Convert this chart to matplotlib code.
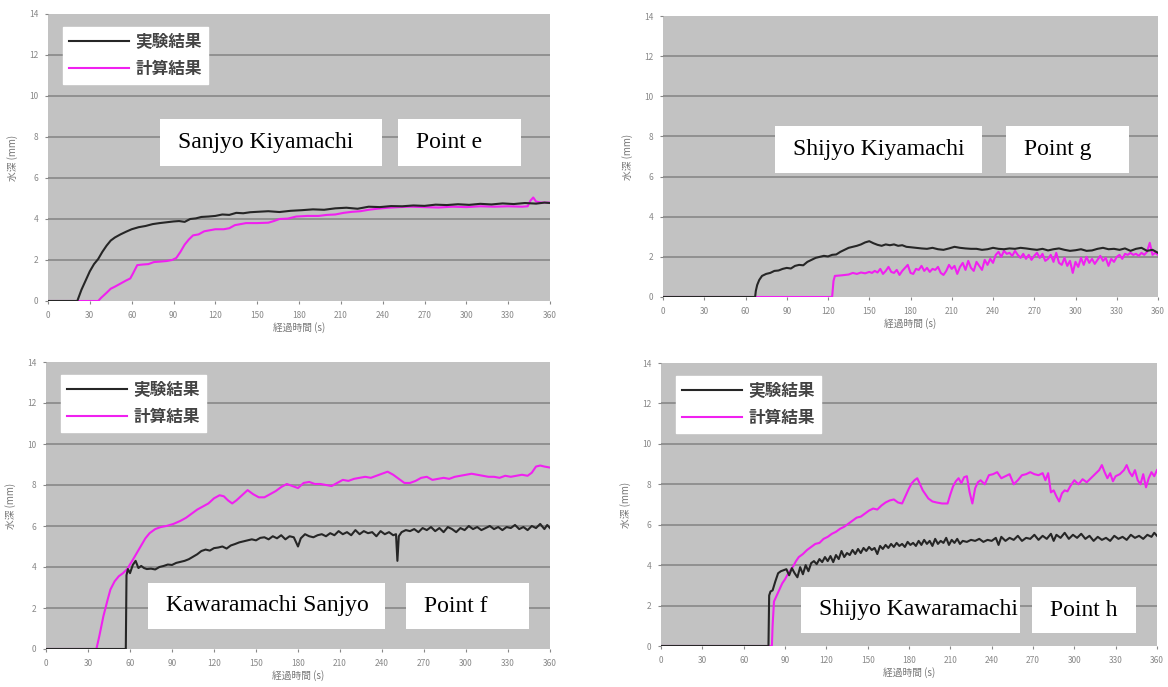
import matplotlib
matplotlib.use("Agg")
import matplotlib.pyplot as plt
from matplotlib.patches import Rectangle

plt.rcParams['font.family'] = ['Noto Sans CJK JP', 'DejaVu Sans']

# --- datos (tiempo s, profundidad mm) ---
e_exp = [(0, 0), (21, 0), (24, 0.55), (27, 1.0), (30, 1.45), (33, 1.8), (36, 2.05), (39, 2.4), (42, 2.7),
         (45, 2.95), (48, 3.1), (52, 3.25), (56, 3.38), (60, 3.5), (65, 3.6), (70, 3.66), (75, 3.75),
         (80, 3.8), (85, 3.84), (90, 3.88), (94, 3.9), (98, 3.86), (102, 4.0), (106, 4.03), (110, 4.1),
         (115, 4.12), (120, 4.15), (125, 4.22), (130, 4.2), (135, 4.3), (140, 4.28), (145, 4.33),
         (150, 4.35), (158, 4.38), (166, 4.34), (174, 4.4), (182, 4.43), (190, 4.47), (198, 4.45),
         (206, 4.52), (214, 4.55), (222, 4.5), (230, 4.6), (238, 4.58), (246, 4.63), (254, 4.62),
         (262, 4.66), (270, 4.64), (278, 4.7), (286, 4.68), (294, 4.72), (302, 4.69), (310, 4.74),
         (318, 4.71), (326, 4.76), (334, 4.73), (342, 4.78), (350, 4.75), (356, 4.8), (360, 4.78)]
e_calc = [(0, 0), (36, 0), (38, 0.15), (42, 0.4), (45, 0.6), (48, 0.7), (52, 0.85), (56, 1.0), (59, 1.1),
          (61, 1.35), (64, 1.75), (68, 1.78), (72, 1.8), (76, 1.9), (80, 1.92), (85, 1.95), (89, 2.0),
          (92, 2.1), (95, 2.4), (98, 2.75), (101, 3.0), (104, 3.2), (108, 3.25), (112, 3.4), (116, 3.45),
          (120, 3.5), (126, 3.5), (130, 3.55), (134, 3.7), (138, 3.75), (142, 3.8), (150, 3.8), (158, 3.82),
          (162, 3.9), (166, 4.0), (172, 4.02), (178, 4.12), (186, 4.15), (194, 4.15), (200, 4.2),
          (206, 4.22), (212, 4.3), (218, 4.35), (224, 4.38), (230, 4.45), (236, 4.5), (244, 4.55),
          (252, 4.58), (260, 4.6), (270, 4.58), (280, 4.56), (290, 4.6), (300, 4.58), (310, 4.62),
          (320, 4.6), (330, 4.62), (340, 4.6), (344, 4.62), (346, 4.9), (348, 5.05), (350, 4.85),
          (354, 4.8), (360, 4.8)]

g_exp = [(0, 0), (67, 0), (67.5, 0.3), (68.5, 0.6), (70, 0.85), (72, 1.05), (75, 1.15), (78, 1.2), (81, 1.3),
         (84, 1.32), (87, 1.4), (90, 1.45), (93, 1.42), (96, 1.55), (99, 1.6), (102, 1.58), (105, 1.75),
         (108, 1.85), (111, 1.95), (114, 2.0), (117, 2.05), (120, 2.02), (123, 2.1), (126, 2.12),
         (129, 2.25), (132, 2.35), (135, 2.45), (138, 2.5), (141, 2.55), (144, 2.62), (147, 2.72),
         (150, 2.78), (153, 2.68), (156, 2.6), (159, 2.55), (162, 2.62), (165, 2.58), (168, 2.62),
         (171, 2.55), (174, 2.58), (177, 2.5), (180, 2.48), (184, 2.45), (188, 2.42), (192, 2.4),
         (196, 2.45), (200, 2.38), (204, 2.35), (208, 2.42), (212, 2.5), (216, 2.45), (220, 2.42),
         (224, 2.4), (228, 2.4), (232, 2.35), (236, 2.38), (240, 2.45), (244, 2.4), (248, 2.38),
         (252, 2.42), (256, 2.4), (260, 2.45), (264, 2.42), (268, 2.38), (272, 2.35), (276, 2.4),
         (280, 2.32), (284, 2.38), (288, 2.42), (292, 2.35), (296, 2.3), (300, 2.33), (304, 2.38),
         (308, 2.3), (312, 2.32), (316, 2.4), (320, 2.45), (324, 2.38), (328, 2.4), (332, 2.35),
         (336, 2.42), (340, 2.3), (344, 2.4), (348, 2.45), (352, 2.3), (356, 2.35), (360, 2.2)]
g_calc = [(0, 0), (123, 0), (124, 0.8), (125, 1.05), (130, 1.08), (135, 1.12), (138, 1.2), (141, 1.15),
          (144, 1.22), (147, 1.18), (150, 1.25), (152, 1.2), (154, 1.3), (156, 1.22), (158, 1.4), (160, 1.15),
          (162, 1.3), (164, 1.5), (166, 1.25), (168, 1.2), (170, 1.35), (172, 1.1), (174, 1.3), (176, 1.45),
          (178, 1.6), (180, 1.2), (182, 1.15), (184, 1.4), (186, 1.35), (188, 1.55), (190, 1.3), (192, 1.45),
          (194, 1.25), (196, 1.4), (198, 1.35), (200, 1.5), (202, 1.2), (204, 1.1), (206, 1.3), (208, 1.6),
          (210, 1.4), (212, 1.55), (214, 1.15), (216, 1.5), (218, 1.7), (220, 1.35), (222, 1.8), (224, 1.45),
          (226, 1.3), (228, 1.75), (230, 1.55), (232, 1.35), (234, 1.85), (236, 1.6), (238, 1.9), (240, 1.7),
          (242, 2.1), (244, 2.25), (246, 2.0), (248, 2.3), (250, 2.15), (252, 2.2), (254, 2.05), (256, 2.3),
          (258, 2.1), (260, 1.95), (262, 2.15), (264, 1.9), (266, 2.1), (268, 1.85), (270, 2.05), (272, 2.2),
          (274, 1.95), (276, 2.15), (278, 1.8), (280, 1.9), (282, 2.1), (284, 1.75), (286, 2.2), (288, 1.7),
          (290, 1.6), (292, 1.95), (294, 1.55), (296, 1.8), (298, 1.2), (300, 1.75), (302, 1.5), (304, 1.95),
          (306, 1.6), (308, 2.0), (310, 1.7), (312, 1.9), (314, 1.65), (316, 1.85), (318, 2.05), (320, 1.8),
          (322, 1.95), (324, 1.55), (326, 1.9), (328, 1.75), (330, 2.0), (332, 2.1), (334, 1.9), (336, 2.15),
          (338, 2.1), (340, 2.2), (342, 2.1), (344, 2.15), (346, 2.05), (348, 2.2), (350, 2.1), (352, 2.25),
          (354, 2.7), (356, 2.1), (358, 2.2), (360, 2.1)]

f_exp = [(0, 0), (57, 0), (57.5, 3.6), (58.5, 3.9), (60, 3.7), (62, 4.1), (64, 4.3), (66, 3.95), (68, 4.05),
         (70, 3.95), (72, 3.9), (75, 3.92), (78, 3.88), (81, 4.0), (84, 4.05), (87, 4.12), (90, 4.1),
         (93, 4.2), (96, 4.25), (99, 4.3), (102, 4.38), (105, 4.5), (108, 4.62), (111, 4.78), (114, 4.85),
         (117, 4.8), (120, 4.92), (123, 4.95), (126, 5.0), (129, 4.9), (132, 5.05), (135, 5.12), (138, 5.2),
         (141, 5.25), (144, 5.3), (147, 5.35), (150, 5.3), (153, 5.42), (156, 5.45), (159, 5.35), (162, 5.5),
         (165, 5.4), (168, 5.55), (171, 5.35), (174, 5.5), (177, 5.45), (180, 5.0), (182, 5.4), (185, 5.6),
         (188, 5.5), (191, 5.45), (194, 5.55), (197, 5.6), (200, 5.5), (203, 5.65), (206, 5.55), (209, 5.75),
         (212, 5.6), (215, 5.7), (218, 5.55), (221, 5.8), (224, 5.6), (227, 5.75), (230, 5.65), (233, 5.7),
         (236, 5.5), (239, 5.75), (242, 5.6), (245, 5.7), (248, 5.55), (250, 5.6), (251, 4.3), (252, 5.5),
         (254, 5.7), (257, 5.8), (260, 5.75), (263, 5.85), (266, 5.7), (269, 5.9), (272, 5.8), (275, 5.95),
         (278, 5.75), (281, 5.9), (284, 5.7), (287, 5.95), (290, 5.85), (293, 5.7), (296, 5.9), (299, 5.8),
         (302, 6.0), (305, 5.85), (308, 5.95), (311, 5.8), (314, 5.9), (317, 6.0), (320, 5.85), (323, 5.95),
         (326, 5.8), (329, 5.95), (332, 5.9), (335, 6.05), (338, 5.85), (341, 5.95), (344, 5.8), (347, 6.0),
         (350, 5.9), (353, 6.1), (356, 5.85), (358, 6.05), (360, 5.9)]
f_calc = [(0, 0), (36, 0), (38, 0.6), (41, 1.6), (44, 2.4), (46, 2.9), (49, 3.3), (52, 3.55), (55, 3.7),
          (58, 3.9), (62, 4.35), (65, 4.7), (68, 5.05), (71, 5.4), (74, 5.65), (78, 5.85), (82, 5.95),
          (86, 6.0), (91, 6.1), (96, 6.25), (100, 6.4), (104, 6.6), (108, 6.8), (112, 6.95), (116, 7.1),
          (120, 7.35), (124, 7.5), (127, 7.45), (130, 7.25), (133, 7.1), (136, 7.25), (140, 7.5), (144, 7.75),
          (148, 7.55), (152, 7.4), (156, 7.4), (160, 7.55), (164, 7.7), (168, 7.9), (172, 8.05), (176, 7.95),
          (180, 7.85), (184, 8.1), (188, 8.15), (192, 8.05), (196, 8.05), (200, 8.0), (204, 7.95), (208, 8.1),
          (212, 8.25), (216, 8.2), (220, 8.3), (224, 8.35), (228, 8.4), (232, 8.35), (236, 8.45), (240, 8.55),
          (244, 8.65), (248, 8.5), (252, 8.3), (256, 8.1), (260, 8.1), (264, 8.2), (268, 8.35), (272, 8.4),
          (276, 8.25), (280, 8.3), (284, 8.35), (288, 8.3), (292, 8.4), (296, 8.45), (300, 8.5), (304, 8.55),
          (308, 8.5), (312, 8.45), (316, 8.4), (320, 8.4), (324, 8.35), (328, 8.45), (332, 8.4), (336, 8.45),
          (340, 8.5), (344, 8.45), (347, 8.6), (350, 8.9), (353, 8.95), (356, 8.9), (360, 8.85)]

h_exp = [(0, 0), (78, 0), (78.5, 2.5), (79.5, 2.7), (81, 2.75), (83, 3.2), (85, 3.6), (87, 3.7), (89, 3.75),
         (91, 3.8), (93, 3.5), (95, 3.85), (97, 3.6), (99, 3.4), (101, 3.9), (103, 3.55), (105, 4.0),
         (107, 3.7), (109, 4.1), (111, 4.2), (113, 4.05), (115, 4.3), (117, 4.15), (119, 4.4), (121, 4.2),
         (123, 4.45), (125, 4.15), (127, 4.5), (129, 4.3), (131, 4.7), (133, 4.4), (135, 4.6), (137, 4.5),
         (139, 4.75), (141, 4.55), (143, 4.8), (145, 4.6), (147, 4.85), (149, 4.7), (151, 4.9), (153, 4.75),
         (155, 4.85), (157, 4.55), (159, 4.95), (161, 4.8), (163, 5.0), (165, 4.85), (167, 5.05), (169, 4.9),
         (171, 5.1), (173, 4.95), (175, 5.05), (177, 4.9), (179, 5.15), (181, 5.0), (183, 5.1), (185, 4.95),
         (187, 5.2), (189, 5.0), (191, 5.25), (193, 5.05), (195, 5.2), (197, 4.95), (199, 5.3), (201, 5.05),
         (203, 5.2), (205, 5.1), (207, 5.35), (209, 5.0), (211, 5.25), (213, 5.1), (215, 5.3), (217, 5.05),
         (219, 5.2), (222, 5.15), (225, 5.25), (228, 5.2), (231, 5.3), (234, 5.15), (237, 5.25), (240, 5.2),
         (243, 5.35), (245, 5.0), (247, 5.4), (250, 5.2), (253, 5.35), (256, 5.25), (259, 5.45), (262, 5.2),
         (265, 5.35), (268, 5.3), (271, 5.5), (274, 5.25), (277, 5.45), (280, 5.3), (283, 5.55), (285, 5.2),
         (287, 5.5), (290, 5.35), (293, 5.6), (296, 5.3), (299, 5.5), (302, 5.35), (305, 5.55), (308, 5.3),
         (311, 5.45), (314, 5.2), (317, 5.4), (320, 5.25), (323, 5.35), (326, 5.2), (329, 5.45), (332, 5.3),
         (335, 5.4), (338, 5.25), (341, 5.5), (344, 5.35), (347, 5.45), (350, 5.3), (353, 5.5), (356, 5.4),
         (358, 5.6), (360, 5.45)]
h_calc = [(0, 0), (80.5, 0), (81, 1.0), (82, 2.2), (84, 2.5), (86, 2.8), (88, 3.1), (90, 3.3), (92, 3.55),
          (94, 3.75), (96, 3.95), (98, 4.2), (100, 4.4), (103, 4.55), (106, 4.75), (109, 4.9), (112, 5.05),
          (115, 5.1), (118, 5.3), (121, 5.4), (124, 5.55), (127, 5.65), (130, 5.8), (133, 5.9), (136, 6.05),
          (139, 6.2), (142, 6.35), (145, 6.4), (148, 6.55), (151, 6.7), (154, 6.8), (157, 6.75), (160, 6.95),
          (163, 7.1), (166, 7.2), (169, 7.25), (172, 7.1), (175, 7.05), (178, 7.5), (180, 7.8), (182, 8.05),
          (184, 8.2), (186, 8.3), (188, 8.0), (190, 7.7), (192, 7.5), (194, 7.3), (197, 7.15), (200, 7.1),
          (204, 7.05), (208, 7.05), (210, 7.5), (212, 7.9), (214, 8.15), (216, 8.3), (218, 8.05), (220, 8.35),
          (222, 8.4), (224, 7.6), (226, 7.05), (228, 7.8), (230, 8.1), (232, 8.2), (235, 8.0), (238, 8.45),
          (241, 8.5), (244, 8.6), (247, 8.3), (250, 8.4), (253, 8.5), (256, 8.0), (259, 8.2), (262, 8.45),
          (265, 8.5), (268, 8.6), (271, 8.5), (274, 8.45), (277, 8.55), (279, 8.2), (281, 8.55), (283, 7.6),
          (285, 7.7), (287, 7.4), (289, 7.15), (291, 7.55), (293, 7.7), (295, 7.65), (297, 7.9), (300, 8.2),
          (303, 8.0), (306, 8.25), (309, 8.1), (312, 8.3), (315, 8.5), (318, 8.7), (320, 8.95), (322, 8.6),
          (324, 8.3), (326, 8.55), (328, 8.15), (330, 8.4), (333, 8.5), (336, 8.7), (338, 8.95), (340, 8.6),
          (342, 8.4), (344, 8.7), (346, 8.2), (348, 8.0), (350, 8.5), (352, 7.85), (354, 8.3), (356, 8.6),
          (358, 8.4), (360, 8.7)]

x_ticks = [0, 30, 60, 90, 120, 150, 180, 210, 240, 270, 300, 330, 360]
y_ticks = [0, 2, 4, 6, 8, 10, 12, 14]
leyenda = ['実験結果', '計算結果']

W, H = 1168, 687

# paneles: (datos exp, datos calc, caja del eje en px [izq, der, arriba, abajo], nombres, leyenda?)
paneles = [
    (e_exp, e_calc, (48, 550, 14, 301), 'Sanjyo Kiyamachi', 'Point e',
     (160, 119, 382, 166), (398, 119, 521, 166), True),
    (g_exp, g_calc, (663, 1158, 16, 297), 'Shijyo Kiyamachi', 'Point g',
     (775, 126, 982, 173), (1006, 126, 1129, 173), False),
    (f_exp, f_calc, (46, 550, 362, 649), 'Kawaramachi Sanjyo', 'Point f',
     (148, 583, 385, 629), (406, 583, 529, 629), True),
    (h_exp, h_calc, (661, 1157, 363, 646), 'Shijyo Kawaramachi', 'Point h',
     (801, 587, 1020, 633), (1032, 587, 1136, 633), True),
]

fig = plt.figure(figsize=(W / 100, H / 100), dpi=100)

for exp, calc, (x0, x1, y0, y1), nombre, punto, caja1, caja2, con_leyenda in paneles:
    ax = fig.add_axes([x0 / W, 1 - y1 / H, (x1 - x0) / W, (y1 - y0) / H])
    ax.set_facecolor('#c2c2c2')
    for s in ax.spines.values():
        s.set_visible(False)
    for yv in y_ticks[1:-1]:
        ax.axhline(yv, color='#8c8c8c', lw=1.3, zorder=1)

    t_e, v_e = zip(*exp)
    t_c, v_c = zip(*calc)
    ax.plot(t_e, v_e, color='#262626', lw=1.5, label=leyenda[0], zorder=3)
    ax.plot(t_c, v_c, color='#f020f0', lw=1.5, label=leyenda[1], zorder=2)

    ax.set_xlim(0, 360)
    ax.set_ylim(0, 14)
    ax.set_xticks(x_ticks)
    ax.set_yticks(y_ticks)
    ax.tick_params(labelsize=6, colors='#888888', length=2, pad=5)
    ax.set_xlabel('経過時間 (s)', fontsize=7, color='#777777', labelpad=2)
    ax.set_ylabel('水深 (mm)', fontsize=7, color='#777777', labelpad=8)

    if con_leyenda:
        ley = ax.legend(loc='upper left', bbox_to_anchor=(0.03, 0.955), frameon=True, fancybox=False,
                        facecolor='white', edgecolor='white', framealpha=1, fontsize=12,
                        handlelength=3.6, handletextpad=0.4, borderpad=0.35, labelspacing=0.55,
                        borderaxespad=0)
        for txt in ley.get_texts():
            txt.set_color('#444444')
            txt.set_fontweight('bold')

    # cajas blancas con el nombre del punto
    for (bx0, by0, bx1, by1), texto in ((caja1, nombre), (caja2, punto)):
        fig.patches.append(Rectangle((bx0 / W, 1 - by1 / H), (bx1 - bx0) / W, (by1 - by0) / H,
                                     transform=fig.transFigure, facecolor='white', edgecolor='none',
                                     zorder=5))
        fig.text((bx0 + 18) / W, 1 - (by0 + by1) / 2 / H, texto, family='Liberation Serif',
                 fontsize=17, color='black', va='center', ha='left', zorder=6)

fig.savefig('out.png', dpi=100)
